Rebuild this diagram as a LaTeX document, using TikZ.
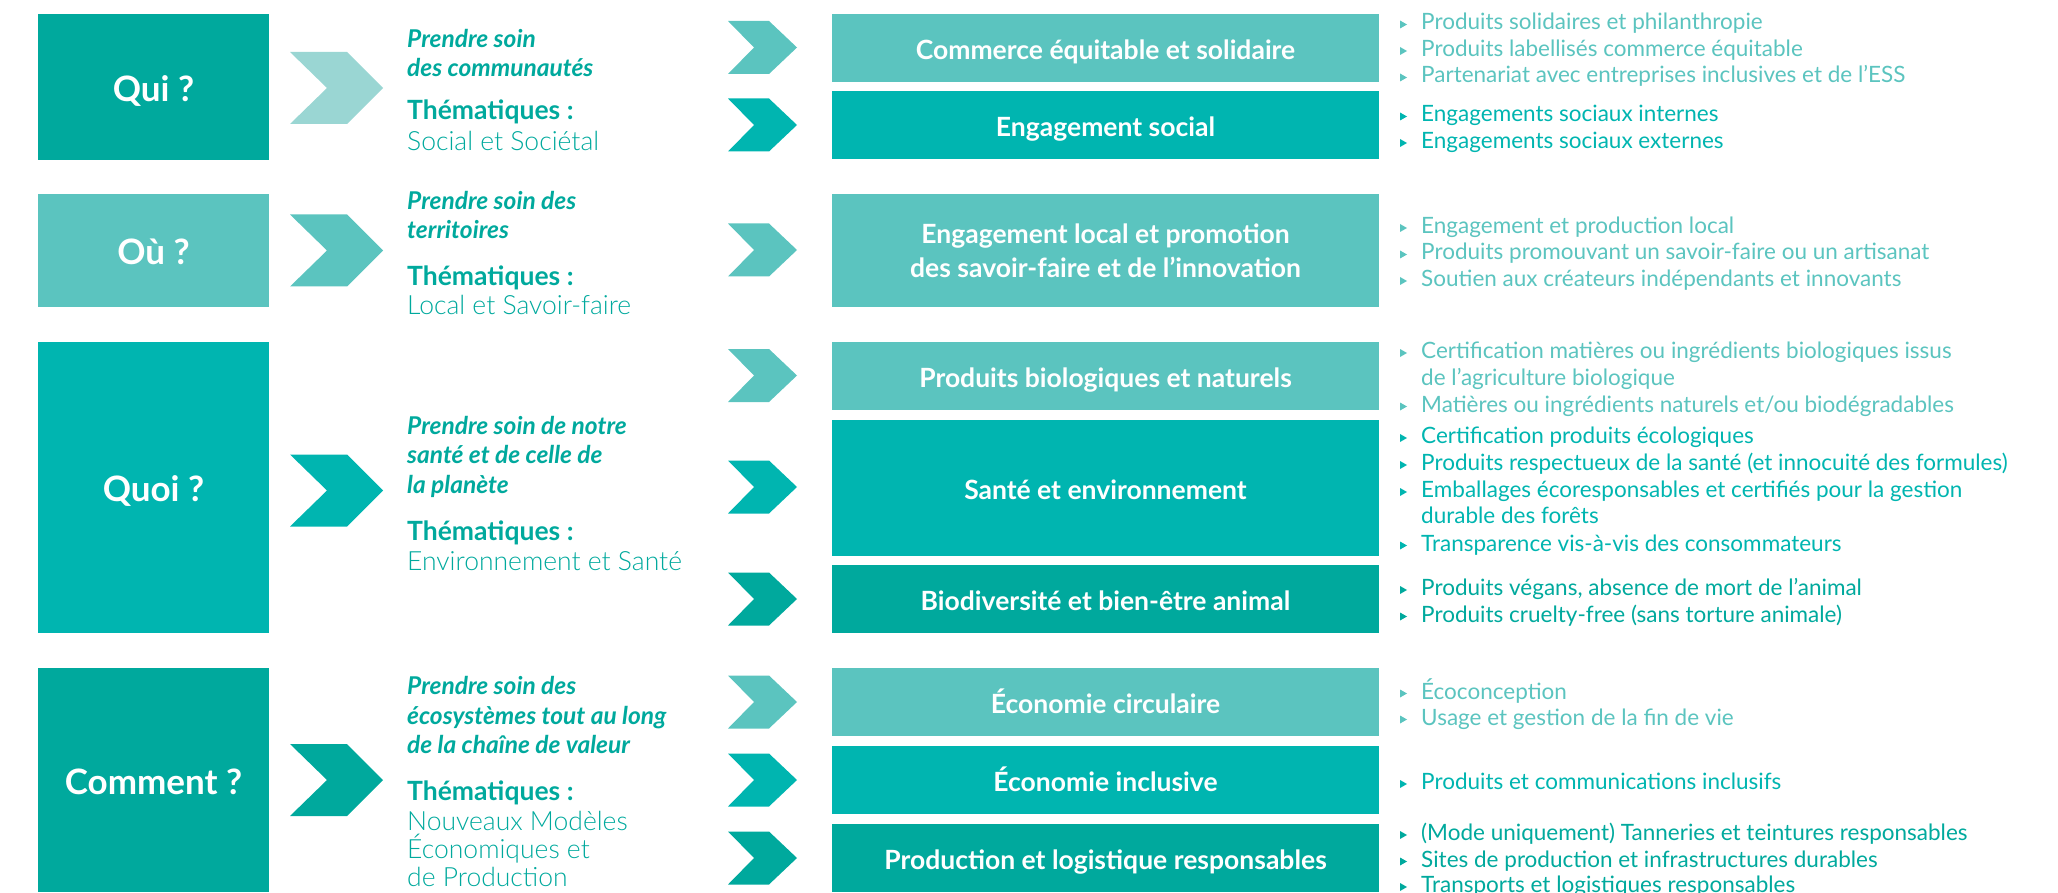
\documentclass[tikz,border=0pt]{standalone}
\usepackage{fontspec}
\setmainfont{Lato}
\newfontfamily\latolight{Lato Light}
\definecolor{cdark}{HTML}{00A99D}
\definecolor{cbright}{HTML}{00B5B0}
\definecolor{clight}{HTML}{5BC4BF}
\definecolor{cpale}{HTML}{9AD6D3}
\newcommand\chevL[2]{\fill[#2] (290,#1-36) -- (347,#1-36) -- (383,#1) -- (347,#1+36) -- (290,#1+36) -- (327,#1) -- cycle;}
\newcommand\chevR[2]{\fill[#2] (728,#1-26.5) -- (769,#1-26.5) -- (797,#1) -- (769,#1+26.5) -- (728,#1+26.5) -- (754,#1) -- cycle;}
\newcommand\bitem[4]{%
  \node[btxt, text=#3] (#1) at (1421,#2+2) {#4};
  \fill[#3] ([shift={(-21pt,9.5pt)}]#1.base west) -- ([shift={(-21pt,1.5pt)}]#1.base west) -- ([shift={(-14pt,5.5pt)}]#1.base west) -- cycle;}
\newcommand\citem[4]{\node[btxt, text=#3] (#1) at (1421,#2+2) {#4};}
\begin{document}
\begin{tikzpicture}[x=1pt,y=-1pt,
  lbox/.style={rectangle, inner sep=0pt, outer sep=0pt, minimum width=231pt, text=white, text height=28.5pt, text depth=0pt, font=\bfseries\fontsize{35}{40}\selectfont},
  mbox/.style={rectangle, inner sep=0pt, outer sep=0pt, minimum width=547pt, minimum height=68pt, text=white, align=center, font=\bfseries\fontsize{26.5}{34}\selectfont},
  mfix/.style={text height=22.5pt, text depth=0pt},
  ctxt/.style={anchor=base west, inner sep=0pt, text=cdark},
  ital/.style={ctxt, font=\bfseries\itshape\fontsize{24.5}{28}\selectfont},
  them/.style={ctxt, font=\bfseries\fontsize{26.5}{30}\selectfont},
  lite/.style={ctxt, font=\latolight\fontsize{26.5}{30}\selectfont},
  btxt/.style={anchor=base west, inner sep=0pt, font=\fontsize{22.5}{26}\selectfont}]
\useasboundingbox (0,0) rectangle (2058,893);
% left boxes
\node[lbox, fill=cdark, minimum height=146pt] (qui) at (153.5,87) {Qui ?};
\node[lbox, fill=clight, minimum height=113pt] (ou) at (153.5,250.5) {Où ?};
\node[lbox, fill=cbright, minimum height=291pt] (quoi) at (153.5,487.5) {Quoi ?};
\node[lbox, fill=cdark, minimum height=224pt] (comment) at (153.5,780) {Comment ?};
% left chevrons
\chevL{88}{cpale}
\chevL{250.5}{clight}
\chevL{490.5}{cbright}
\chevL{780}{cdark}
% column 2 texts
\node[ital] (q1) at (407,48) {Prendre soin};
\node[ital] (q2) at (407,76.5) {des communautés};
\node[them] (q3) at (407,119.5) {Thématiques :};
\node[lite] (q4) at (407,151) {Social et Sociétal};
\node[ital] (o1) at (407,210) {Prendre soin des};
\node[ital] (o2) at (407,238.5) {territoires};
\node[them] (o3) at (407,285.5) {Thématiques :};
\node[lite] (o4) at (407,314) {Local et Savoir-faire};
\node[ital] (w1) at (407,434) {Prendre soin de notre};
\node[ital] (w2) at (407,463.5) {santé et de celle de};
\node[ital] (w3) at (407,493) {la planète};
\node[them] (w4) at (407,540) {Thématiques :};
\node[lite] (w5) at (407,570) {Environnement et Santé};
\node[ital] (c1) at (407,694.5) {Prendre soin des};
\node[ital] (c2) at (407,724.5) {écosystèmes tout au long};
\node[ital] (c3) at (407,753.5) {de la chaîne de valeur};
\node[them] (c4) at (407,800) {Thématiques :};
\node[lite] (c5) at (407,830) {Nouveaux Modèles};
\node[lite] (c6) at (407,858) {Économiques et};
\node[lite] (c7) at (407,886) {de Production};
% right chevrons
\chevR{47.5}{clight}
\chevR{125}{cbright}
\chevR{250}{clight}
\chevR{375.5}{clight}
\chevR{487}{cbright}
\chevR{599}{cdark}
\chevR{702}{clight}
\chevR{780}{cbright}
\chevR{858}{cdark}
% middle boxes
\node[mbox, mfix, fill=clight] (b1) at (1105.5,48) {Commerce équitable et solidaire};
\node[mbox, mfix, fill=cbright] (b2) at (1105.5,125) {Engagement social};
\node[mbox, fill=clight, minimum height=113pt] (b3) at (1105.5,250.5) {Engagement local et promotion\\des savoir-faire et de l’innovation};
\node[mbox, mfix, fill=clight] (b4) at (1105.5,376) {Produits biologiques et naturels};
\node[mbox, mfix, fill=cbright, minimum height=136pt] (b5) at (1105.5,488) {Santé et environnement};
\node[mbox, mfix, fill=cdark] (b6) at (1105.5,599) {Biodiversité et bien-être animal};
\node[mbox, mfix, fill=clight] (b7) at (1105.5,702) {Économie circulaire};
\node[mbox, mfix, fill=cbright] (b8) at (1105.5,780) {Économie inclusive};
\node[mbox, mfix, fill=cdark] (b9) at (1105.5,858) {Production et logistique responsables};
% bullets
\bitem{t11}{28}{clight}{Produits solidaires et philanthropie}
\bitem{t12}{54.5}{clight}{Produits labellisés commerce équitable}
\bitem{t13}{81}{clight}{Partenariat avec entreprises inclusives et de l’ESS}
\bitem{t21}{120}{cbright}{Engagements sociaux internes}
\bitem{t22}{146.5}{cbright}{Engagements sociaux externes}
\bitem{t31}{231.5}{clight}{Engagement et production local}
\bitem{t32}{258}{clight}{Produits promouvant un savoir-faire ou un artisanat}
\bitem{t33}{284.5}{clight}{Soutien aux créateurs indépendants et innovants}
\bitem{t41}{356.5}{clight}{Certification matières ou ingrédients biologiques issus}
\citem{t42}{383}{clight}{de l’agriculture biologique}
\bitem{t43}{410}{clight}{Matières ou ingrédients naturels et/ou biodégradables}
\bitem{t51}{441.5}{cbright}{Certification produits écologiques}
\bitem{t52}{468.5}{cbright}{Produits respectueux de la santé (et innocuité des formules)}
\bitem{t53}{495.5}{cbright}{Emballages écoresponsables et certifiés pour la gestion}
\citem{t54}{521.5}{cbright}{durable des forêts}
\bitem{t55}{549}{cbright}{Transparence vis-à-vis des consommateurs}
\bitem{t61}{593.5}{cdark}{Produits végans, absence de mort de l’animal}
\bitem{t62}{620}{cdark}{Produits cruelty-free (sans torture animale)}
\bitem{t71}{697}{clight}{Écoconception}
\bitem{t72}{723}{clight}{Usage et gestion de la fin de vie}
\bitem{t81}{787.5}{cbright}{Produits et communications inclusifs}
\bitem{t91}{838.5}{cdark}{(Mode uniquement) Tanneries et teintures responsables}
\bitem{t92}{865}{cdark}{Sites de production et infrastructures durables}
\bitem{t93}{890.5}{cdark}{Transports et logistiques responsables}
\end{tikzpicture}
\end{document}
